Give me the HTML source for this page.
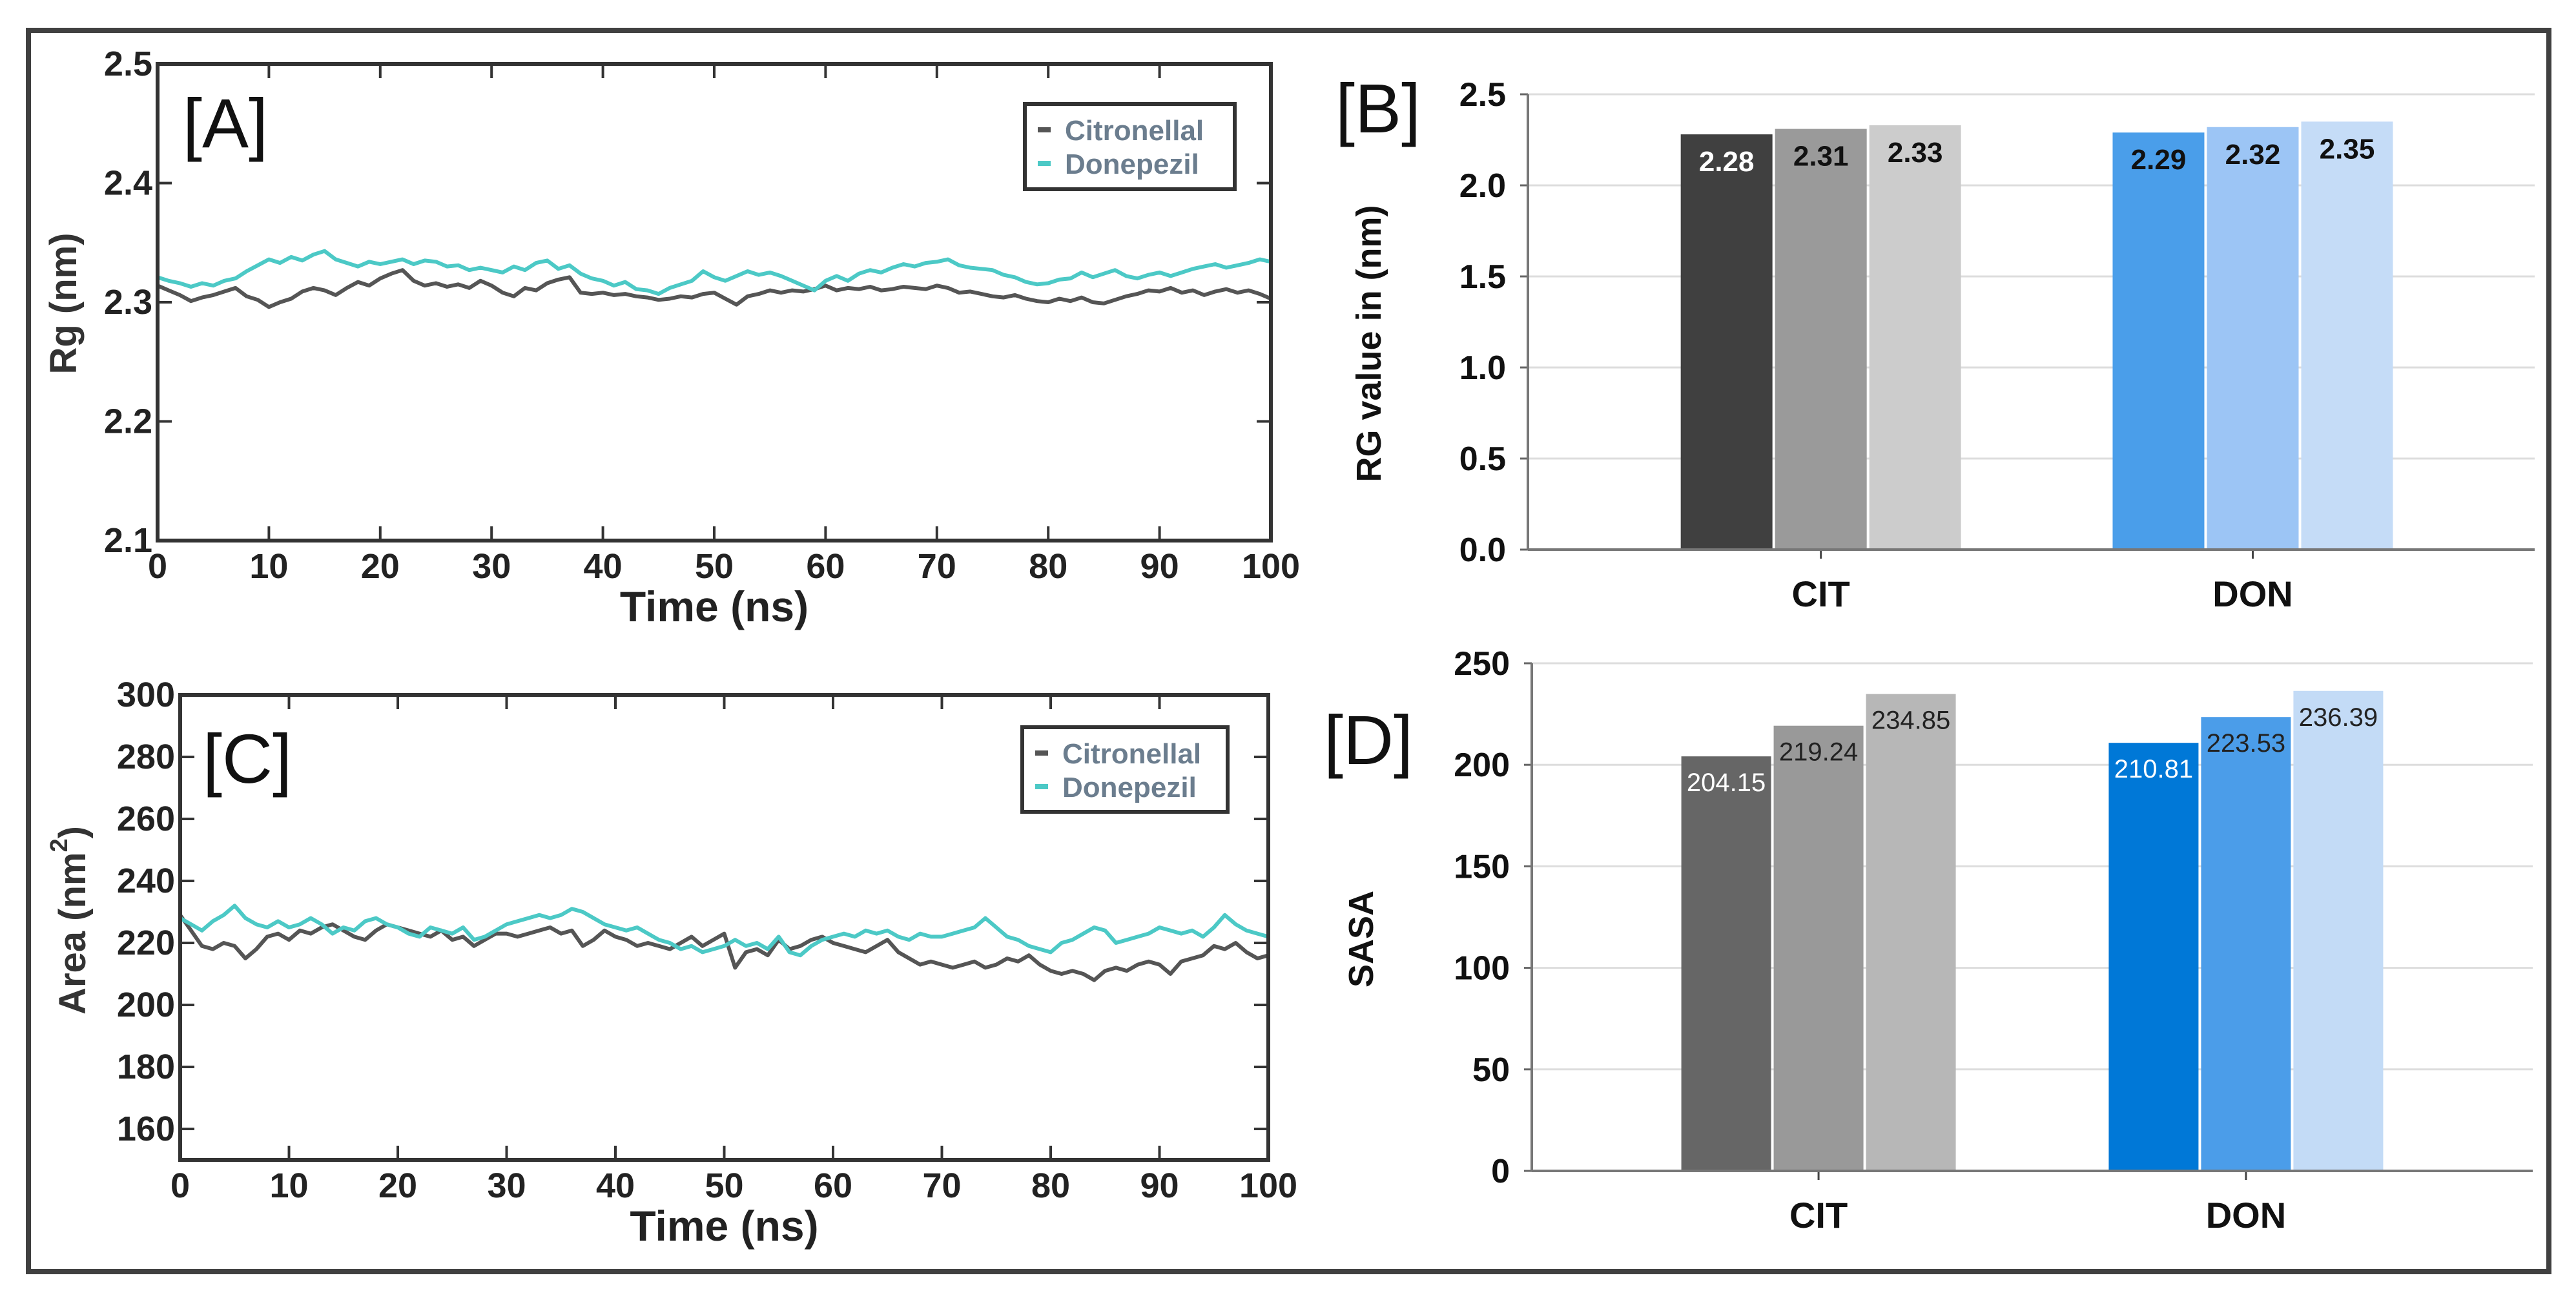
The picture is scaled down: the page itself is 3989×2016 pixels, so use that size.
<!DOCTYPE html>
<html><head><meta charset="utf-8"><style>
html,body{margin:0;padding:0;background:#fff;}
svg{display:block;}
text{font-family:"Liberation Sans Narrow","Liberation Sans",sans-serif;}
</style></head><body>
<svg id="fig" width="3989" height="2016" viewBox="0 0 3989 2016" xmlns="http://www.w3.org/2000/svg">
<rect x="0" y="0" width="3989" height="2016" fill="#fff"/>
<rect x="44" y="47" width="3903" height="1922" fill="none" stroke="#404040" stroke-width="8"/>
</svg>
<script>
// ---------- Data ----------
const timeTicks=[0,10,20,30,40,50,60,70,80,90,100];
const rgTicks=[2.1,2.2,2.3,2.4,2.5];
const rgTickLabels=["2.1","2.2","2.3","2.4","2.5"];
const areaTicks=[160,180,200,220,240,260,280,300];
const rgDonepezil=[2.321,2.318,2.316,2.313,2.316,2.314,2.318,2.320,2.326,2.331,2.336,
2.333,2.338,2.335,2.340,2.343,2.336,2.333,2.330,2.334,2.332,
2.334,2.336,2.332,2.335,2.334,2.330,2.331,2.327,2.329,2.327,
2.325,2.330,2.327,2.333,2.335,2.328,2.331,2.324,2.320,2.318,
2.314,2.317,2.311,2.310,2.307,2.312,2.315,2.318,2.326,2.321,
2.318,2.322,2.326,2.323,2.325,2.322,2.318,2.314,2.310,2.318,
2.322,2.318,2.324,2.327,2.325,2.329,2.332,2.330,2.333,2.334,
2.336,2.331,2.329,2.328,2.327,2.323,2.321,2.317,2.315,2.316,
2.319,2.320,2.325,2.321,2.324,2.327,2.322,2.320,2.323,2.325,
2.322,2.325,2.328,2.330,2.332,2.329,2.331,2.333,2.336,2.334];
const rgCitronellal=[2.314,2.310,2.306,2.301,2.304,2.306,2.309,2.312,2.305,2.302,2.296,
2.300,2.303,2.309,2.312,2.310,2.306,2.312,2.317,2.314,2.320,
2.324,2.327,2.318,2.314,2.316,2.313,2.315,2.312,2.318,2.314,
2.308,2.305,2.312,2.310,2.316,2.319,2.321,2.308,2.307,2.308,
2.306,2.307,2.305,2.304,2.302,2.303,2.305,2.304,2.307,2.308,
2.303,2.298,2.305,2.307,2.310,2.308,2.310,2.309,2.311,2.314,
2.310,2.312,2.311,2.313,2.310,2.311,2.313,2.312,2.311,2.314,
2.312,2.308,2.309,2.307,2.305,2.304,2.306,2.303,2.301,2.300,
2.303,2.301,2.304,2.300,2.299,2.302,2.305,2.307,2.310,2.309,
2.312,2.308,2.310,2.306,2.309,2.311,2.308,2.310,2.307,2.303];
const sasaDonepezil=[228,226,224,227,229,232,228,226,225,227,225,
226,228,226,223,225,224,227,228,226,225,
223,222,225,224,223,225,221,222,224,226,
227,228,229,228,229,231,230,228,226,225,
224,225,223,221,220,218,219,217,218,219,
221,219,220,218,222,217,216,219,221,222,
223,222,224,223,224,222,221,223,222,222,
223,224,225,228,225,222,221,219,218,217,
220,221,223,225,224,220,221,222,223,225,
224,223,224,222,225,229,226,224,223,222];
const sasaCitronellal=[229,224,219,218,220,219,215,218,222,223,221,
224,223,225,226,224,222,221,224,226,225,
224,223,222,224,221,222,219,221,223,223,
222,223,224,225,223,224,219,221,224,222,
221,219,220,219,218,220,222,219,221,223,
212,217,218,216,221,218,219,221,222,220,
219,218,217,219,221,217,215,213,214,213,
212,213,214,212,213,215,214,216,213,211,
210,211,210,208,211,212,211,213,214,213,
210,214,215,216,219,218,220,217,215,216];
const barCategories=["CIT","DON"];
const rgBarValues=[[2.28,2.31,2.33],[2.29,2.32,2.35]];
const rgBarLabels=[["2.28","2.31","2.33"],["2.29","2.32","2.35"]];
const rgBarTicks=[0,0.5,1.0,1.5,2.0,2.5];
const rgBarTickLabels=["0.0","0.5","1.0","1.5","2.0","2.5"];
const sasaBarValues=[[204.15,219.24,234.85],[210.81,223.53,236.39]];
const sasaBarLabels=[["204.15","219.24","234.85"],["210.81","223.53","236.39"]];
const sasaBarTicks=[0,50,100,150,200,250];

const NS="http://www.w3.org/2000/svg";
const svg=document.getElementById('fig');
function mk(tag,attrs,parent,txt){const e=document.createElementNS(NS,tag);for(const k in attrs)e.setAttribute(k,attrs[k]);if(txt!==undefined)e.textContent=txt;(parent||svg).appendChild(e);return e;}

// ---------- Line panels ----------
function linePanel(o){
  const g=mk('g',{});
  
  
  const sx=v=>o.x0+(v-0)/100*(o.x1-o.x0);
  const sy=v=>o.y1-(v-o.ymin)/(o.ymax-o.ymin)*(o.y1-o.y0);
  const series=[[o.cit,'#555555','citronellal-line'],[o.don,'#4cc9c6','donepezil-line']];
  for(const s of series){
    const pts=s[0].map((v,i)=>sx(i*100/(s[0].length-1)).toFixed(1)+','+sy(v).toFixed(1)).join(' ');
    const pl=mk('polyline',{points:pts,fill:'none',stroke:s[1],'stroke-width':6,'stroke-linejoin':'round'},g);
    
    
  }
  const fr=mk('rect',{x:o.x0,y:o.y0,width:o.x1-o.x0,height:o.y1-o.y0,fill:'none',stroke:'#333','stroke-width':6},g);
  
  
  for(const t of timeTicks){
    const X=sx(t);
    mk('line',{x1:X,y1:o.y1,x2:X,y2:o.y1-22,stroke:'#333','stroke-width':4},g);
    mk('line',{x1:X,y1:o.y0,x2:X,y2:o.y0+22,stroke:'#333','stroke-width':4},g);
    const tl=mk('text',{x:X,y:o.y1+58,'font-size':54,'font-weight':'bold','text-anchor':'middle',fill:'#222'},g,String(t));
    
    
  }
  o.yt.forEach((t,i)=>{
    const Y=sy(t);
    mk('line',{x1:o.x0,y1:Y,x2:o.x0+22,y2:Y,stroke:'#333','stroke-width':4},g);
    mk('line',{x1:o.x1,y1:Y,x2:o.x1-22,y2:Y,stroke:'#333','stroke-width':4},g);
    const tl=mk('text',{x:o.x0-8,y:Y+18,'font-size':54,'font-weight':'bold','text-anchor':'end',fill:'#222'},g,o.ytl[i]);
    
    
  });
  const xt=mk('text',{x:(o.x0+o.x1)/2,y:o.y1+125,'font-size':66,'font-weight':'bold','text-anchor':'middle',fill:'#222'},g,'Time (ns)');
  
  
  const yt=mk('text',{x:0,y:0,'font-size':58,'font-weight':'bold','text-anchor':'middle',fill:'#333',transform:`translate(${o.ylx},${o.yly}) rotate(-90)`,style:'font-family:"Liberation Sans",sans-serif'},g);
  
  
  yt.innerHTML=o.ylab;
  const pl=mk('text',{x:o.px,y:o.py,'font-size':108,fill:'#111',style:'font-family:"Liberation Sans",sans-serif'},g,o.plabel);
  
  
  const lg=mk('g',{},g);
  
  
  mk('rect',{x:o.lx0,y:o.ly0,width:o.lx1-o.lx0,height:o.ly1-o.ly0,fill:'#fff',stroke:'#333','stroke-width':6},lg);
  const ent=[['Citronellal','#555555'],['Donepezil','#4cc9c6']];
  ent.forEach((e,i)=>{
    const ey=o.ly0+40+i*52;
    const en=mk('g',{},lg);
    
    
    mk('line',{x1:o.lx0+20,y1:ey,x2:o.lx0+40,y2:ey,stroke:e[1],'stroke-width':8},en);
    mk('text',{x:o.lx0+62,y:ey+16,'font-size':44,'font-weight':'bold',fill:'#6b7d8e'},en,e[0]);
  });
}
linePanel({name:'panel-a-rg-timeseries',x0:244,x1:1968,y0:99,y1:837,ymin:2.1,ymax:2.5,yt:rgTicks,ytl:rgTickLabels,
  cit:rgCitronellal,don:rgDonepezil,ylab:'Rg (nm)',ylx:118,yly:470,plabel:'[A]',px:283,py:228,lx0:1587,lx1:1912,ly0:161,ly1:293});
linePanel({name:'panel-c-sasa-timeseries',x0:279,x1:1964,y0:1076,y1:1796,ymin:150,ymax:300,yt:areaTicks,ytl:areaTicks.map(String),
  cit:sasaCitronellal,don:sasaDonepezil,ylab:'Area (nm<tspan dy="-28" font-size="38">2</tspan><tspan dy="28">)</tspan>',ylx:132,yly:1425,plabel:'[C]',px:314,py:1212,lx0:1583,lx1:1901,ly0:1126,ly1:1257});

// ---------- Bar panels ----------
function barPanel(o){
  const g=mk('g',{});
  
  
  const sy=v=>o.y1-(v-o.ymin)/(o.ymax-o.ymin)*(o.y1-o.y0);
  o.ticks.forEach((t,i)=>{
    const Y=sy(t);
    if(i>0){const gl=mk('line',{x1:o.x0,y1:Y,x2:o.x1,y2:Y,stroke:'#dddddd','stroke-width':3},g);
      
      }
    mk('line',{x1:o.x0-12,y1:Y,x2:o.x0,y2:Y,stroke:'#666','stroke-width':3},g);
    const tl=mk('text',{x:o.x0-34,y:Y+18,'font-size':52,'font-weight':'bold','text-anchor':'end',fill:'#111'},g,o.tickLabels[i]);
    
    
  });
  const bw=o.bw,gap=4,groupW=3*bw+2*gap;
  const span=o.x1-o.x0;
  barCategories.forEach((c,ci)=>{
    const cx=o.x0+span*o.centers[ci];
    const gx=cx-groupW/2;
    o.values[ci].forEach((v,bi)=>{
      const X=gx+bi*(bw+gap),Y=sy(v);
      const r=mk('rect',{x:X,y:Y,width:bw,height:o.y1-Y,fill:o.colors[ci][bi]},g);
      
      
      const lb=mk('text',{x:X+bw/2,y:Y+o.labOff,'font-size':o.labSize,'font-weight':o.labWeight,'text-anchor':'middle',fill:o.labColors[ci][bi]},g,o.labels[ci][bi]);
      
      
    });
    mk('line',{x1:cx,y1:o.y1,x2:cx,y2:o.y1+14,stroke:'#444','stroke-width':3},g);
    const cl=mk('text',{x:cx,y:o.y1+88,'font-size':56,'font-weight':'bold','text-anchor':'middle',fill:'#111'},g,c);
    
    
  });
  mk('line',{x1:o.x0,y1:o.y0,x2:o.x0,y2:o.y1,stroke:'#777','stroke-width':4},g);
  mk('line',{x1:o.x0,y1:o.y1,x2:o.x1,y2:o.y1,stroke:'#777','stroke-width':4},g);
  const yt=mk('text',{x:0,y:0,'font-size':54,'font-weight':'bold','text-anchor':'middle',fill:'#111',transform:`translate(${o.ylx},${o.yly}) rotate(-90)`,style:'font-family:"Liberation Sans",sans-serif'},g,o.ylab);
  
  
  const pl=mk('text',{x:o.px,y:o.py,'font-size':108,fill:'#111',style:'font-family:"Liberation Sans",sans-serif'},g,o.plabel);
  
  
}
barPanel({name:'panel-b-rg-bars',x0:2366,x1:3925,y0:146,y1:851,ymin:0,ymax:2.5,ticks:rgBarTicks,tickLabels:rgBarTickLabels,
  centers:[0.291,0.720],bw:142,
  values:rgBarValues,labels:rgBarLabels,colors:[['#404040','#9a9a9a','#cccccc'],['#4a9eea','#9cc5f5','#c5dcf7']],
  labColors:[['#fff','#111','#111'],['#111','#111','#111']],labOff:57,labSize:44,labWeight:'bold',
  ylab:'RG value in (nm)',ylx:2138,yly:532,plabel:'[B]',px:2068,py:205});
barPanel({name:'panel-d-sasa-bars',x0:2372,x1:3922,y0:1027,y1:1813,ymin:0,ymax:250,ticks:sasaBarTicks,tickLabels:sasaBarTicks.map(String),
  centers:[0.2865,0.7135],bw:139,
  values:sasaBarValues,labels:sasaBarLabels,colors:[['#666666','#999999','#b7b7b7'],['#0078d7','#4b9de9','#c3dbf6']],
  labColors:[['#fff','#222','#222'],['#fff','#222','#222']],labOff:54,labSize:40,labWeight:'normal',
  ylab:'SASA',ylx:2126,yly:1454,plabel:'[D]',px:2050,py:1183});
</script>
</body></html>
